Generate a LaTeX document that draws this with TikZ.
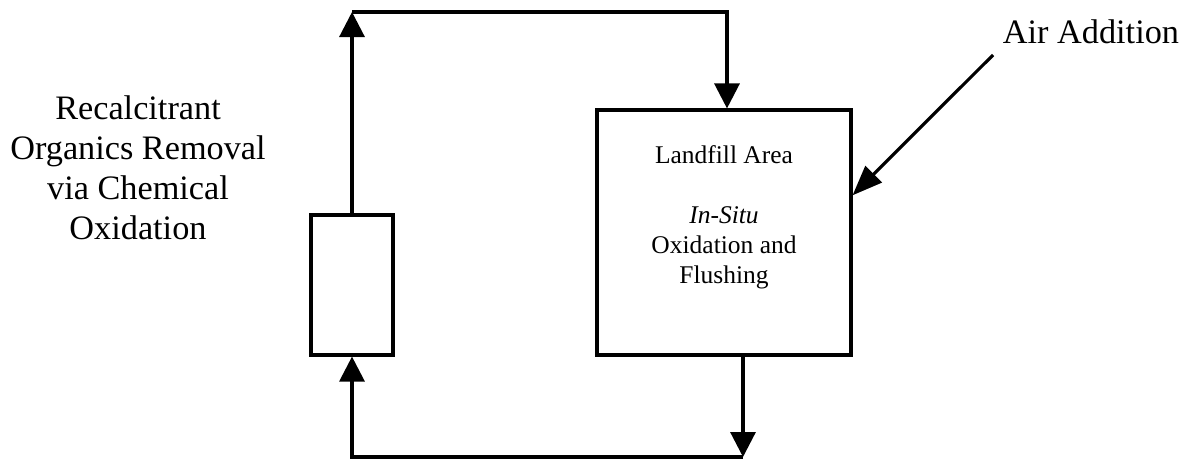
\documentclass[tikz,border=0pt]{standalone}
\usepackage{fontspec}
\setmainfont{Liberation Serif}
\usetikzlibrary{arrows.meta,positioning,calc}

\begin{document}
\begin{tikzpicture}[
  x=0.02cm, y=-0.02cm,
  line width=1.8pt,
  blk/.style={draw,line width=1.8pt,inner sep=0pt},
  bigtxt/.style={align=center,font=\fontsize{19.5}{22.8}\selectfont},
  boxtxt/.style={align=center,font=\fontsize{14.5}{17}\selectfont},
  arr/.style={-{Triangle[length=5mm,width=5mm]}},
  airarr/.style={-{Triangle[length=6mm,width=4.6mm]}}
]
\useasboundingbox (0,0) rectangle (1186,461);
\node[blk,minimum width=1.64cm,minimum height=2.8cm] (treat) at (352,285) {};
\node[blk,minimum width=5.08cm,minimum height=4.9cm] (landfill) at (724,232.5) {};
\node[bigtxt] (removal) at (138,168) {Recalcitrant\\Organics Removal\\via Chemical\\Oxidation};
\node[boxtxt] (lftext) at ($(landfill.center)+(0,-15)$) {Landfill Area\\[17pt]\textit{In-Situ}\\Oxidation and\\Flushing};
\node[bigtxt] (air) at (1091,32) {Air Addition};

% loop corners
\coordinate (tl) at (treat.north |- 0,12);
\coordinate (tr) at (727,12);
\coordinate (br) at (743,457);
\coordinate (bl) at (treat.south |- 0,457);
\coordinate (airsrc) at (993,55);
\coordinate (airin) at ($(landfill.north east)!0.35!(landfill.south east)$);

\draw[arr] (treat.north) -- (tl);
\draw[arr] (tl) -- (tr) -- (tr |- landfill.north);
\draw[arr] (landfill.south -| br) -- (br);
\draw[arr] (br) -- (bl) -- (treat.south);
\draw[airarr] (airsrc) -- (airin);
\end{tikzpicture}
\end{document}
